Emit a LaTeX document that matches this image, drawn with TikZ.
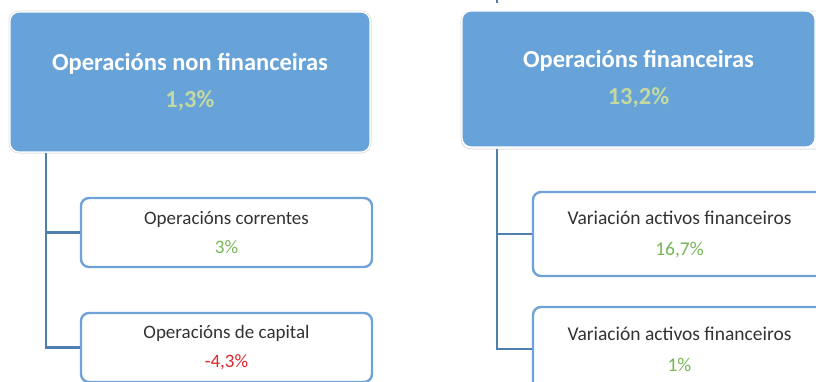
\documentclass[tikz,border=0pt]{standalone}
\usepackage{fontspec}
\setmainfont{Carlito}
\definecolor{topfill}{HTML}{67A3D8}
\definecolor{linecol}{HTML}{4F7FAF}
\definecolor{childborder}{HTML}{6FA2D6}
\definecolor{lightgreen}{HTML}{C4D9A0}
\definecolor{midgreen}{HTML}{76B657}
\definecolor{redpct}{HTML}{E0262B}
\definecolor{darktext}{HTML}{333333}
\tikzset{
  topbox/.style={rounded corners=9pt, fill=topfill, draw=white, line width=1.2pt,
    minimum width=#1, align=center, text=white, font=\fontsize{24.5}{27}\selectfont\bfseries, inner sep=0pt},
  childbox/.style={rounded corners=8pt, fill=white, draw=childborder, line width=2.4pt,
    minimum width=#1, align=center, text=darktext, inner sep=0pt},
  conn/.style={draw=linecol, line width=2.6pt},
  shadowbox/.style={rounded corners=10pt, draw=black!12, line width=1pt}
}
\begin{document}
\begin{tikzpicture}[x=1pt,y=-1pt]
\useasboundingbox (0,0) rectangle (816,381);
% outer faint outlines of the top boxes
\draw[shadowbox] (9,11) rectangle (371,153);
\draw[shadowbox] (461,11) rectangle (830,149);
% top boxes
\node[topbox=360pt, minimum height=140pt] (ltop) at (190,82) {Operacións non financeiras\\[10pt]{\color{lightgreen}1,3\%}};
\node[topbox=353pt, minimum height=136pt] (rtop) at (638.5,79) {Operacións financeiras\\[10pt]{\color{lightgreen}13,2\%}};
% child boxes
\node[childbox=291pt, minimum height=69pt, font=\fontsize{19}{21}\selectfont] (lc1) at (226.5,232.5) {Operacións correntes\\[8pt]{\color{midgreen}3\%}};
\node[childbox=291pt, minimum height=69pt, font=\fontsize{19}{21}\selectfont] (lc2) at (226.5,347.5) {Operacións de capital\\[8pt]{\color{redpct}-4,3\%}};
\node[childbox=293pt, minimum height=84pt, font=\fontsize{19.5}{21}\selectfont] (rc1) at (679.5,234) {Variación activos financeiros\\[10pt]{\color{midgreen}16,7\%}};
\node[childbox=293pt, minimum height=84pt, font=\fontsize{19.5}{21}\selectfont] (rc2) at (679.5,349) {Variación activos financeiros\\[10pt]{\color{midgreen}1\%}};
% connectors
\coordinate (lv) at (46,153);
\coordinate (rv) at (497,149);
\coordinate (rin) at (497,0);
\coordinate (rinend) at (497,3);
\draw[conn] (lv) |- (lc1.west);
\draw[conn] (lv) |- (lc2.west);
\draw[conn] (rv) |- (rc1.west);
\draw[conn] (rv) |- (rc2.west);
\draw[conn] (rin) -- (rinend);
\end{tikzpicture}
\end{document}
